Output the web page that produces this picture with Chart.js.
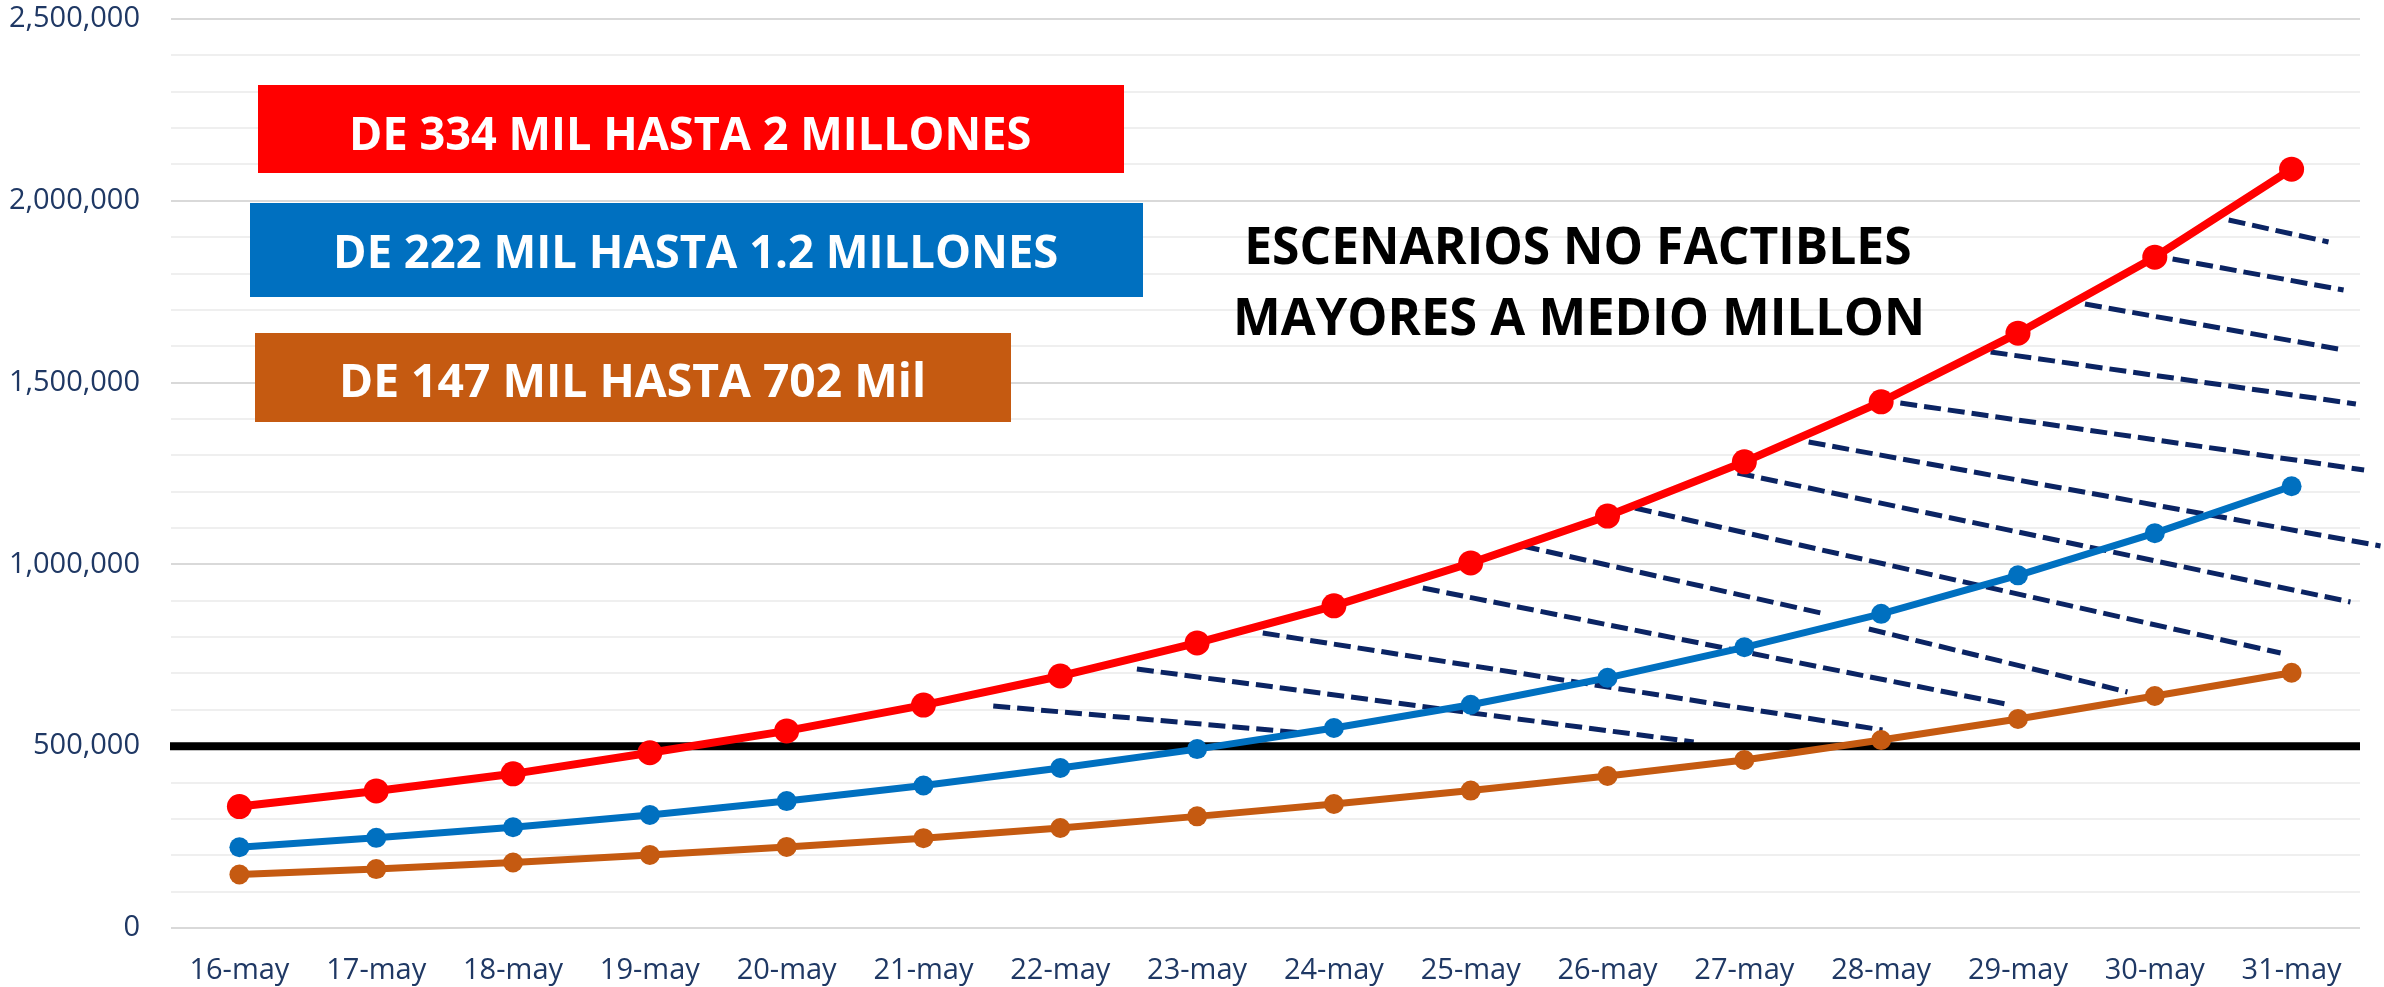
<!DOCTYPE html>
<html>
<head>
<meta charset="utf-8">
<script src="https://cdn.jsdelivr.net/npm/chart.js@4.4.0/dist/chart.umd.min.js"></script>
<style>
  html, body { margin: 0; padding: 0; background: #ffffff; }
  #wrap { width: 2384px; height: 987px; position: relative; }
</style>
</head>
<body>
<div id="wrap"><canvas id="c"></canvas></div>
<script>
// ---------- DATA ----------
const categories = ['16-may','17-may','18-may','19-may','20-may','21-may','22-may','23-may',
                    '24-may','25-may','26-may','27-may','28-may','29-may','30-may','31-may'];
const escenarioAlto  = [334000, 377000, 424000, 482000, 542000, 613000, 693000, 784000,
                        886000, 1004000, 1133000, 1282000, 1447000, 1636000, 1845000, 2087000];
const escenarioMedio = [222000, 248000, 277000, 311000, 349000, 392000, 440000, 492000,
                        550000, 614000, 688000, 772000, 864000, 970000, 1086000, 1215000];
const escenarioBajo  = [147000, 162000, 180000, 201000, 223000, 247000, 275000, 307000,
                        341000, 378000, 418000, 462000, 517000, 575000, 638000, 702000];
const umbral = 500000;
const yTickLabels = [0, 500000, 1000000, 1500000, 2000000, 2500000];
const boxLabels = ['DE 334 MIL HASTA 2 MILLONES', 'DE 222 MIL HASTA 1.2 MILLONES', 'DE 147 MIL HASTA 702 Mil'];
const noteLines = ['ESCENARIOS NO FACTIBLES', 'MAYORES A MEDIO MILLON'];
// hatch segments in data space: [category index from, value from, category index to, value to]
const hatchSegments = [
  [5.51, 610600, 7.78, 536300],
  [6.56, 712300, 10.63, 511600],
  [7.48, 811300, 12.01, 544600],
  [8.65, 935100, 12.95, 613300],
  [9.38, 1050600, 11.56, 866300],
  [10.20, 1155100, 14.92, 756300],
  [10.95, 1251400, 15.43, 896600],
  [11.47, 1336600, 15.65, 1050600],
  [12.14, 1443900, 15.53, 1259600],
  [11.91, 822300, 13.80, 649100],
  [14.54, 1947200, 15.27, 1886700],
  [14.13, 1839900, 15.38, 1754700],
  [13.49, 1716200, 15.38, 1589700],
  [12.80, 1584200, 15.47, 1441200]
];

// ---------- STYLE ----------
const FONT = "'Open Sans', sans-serif";
const NAVY = '#1F3864';
const boxStyles = [
  { fill: '#FF0000', x0: 258, x1: 1124, y0: 85,  y1: 173, tx0: 353, tx1: 1030, base: 150 },
  { fill: '#0070C0', x0: 250, x1: 1143, y0: 203, y1: 297, tx0: 337, tx1: 1057, base: 268 },
  { fill: '#C55A11', x0: 255, x1: 1011, y0: 333, y1: 422, tx0: 343, tx1: 923,  base: 397 }
];
const noteStyles = [
  { tx0: 1248, tx1: 1910, base: 264 },
  { tx0: 1237, tx1: 1921, base: 335 }
];

function fitText(ctx, text, x0, x1, baseline, size, color) {
  ctx.save();
  ctx.font = 'bold ' + size + 'px ' + FONT;
  ctx.textAlign = 'left';
  ctx.textBaseline = 'alphabetic';
  const m = ctx.measureText(text);
  const ink = m.actualBoundingBoxRight + m.actualBoundingBoxLeft;
  const sx = (x1 - x0) / ink;
  ctx.translate(x0 + m.actualBoundingBoxLeft * sx, baseline);
  ctx.scale(sx, 1);
  ctx.fillStyle = color;
  ctx.fillText(text, 0, 0);
  ctx.restore();
}

const overlay = {
  id: 'overlay',
  beforeDatasetsDraw(chart) {
    const { ctx, chartArea, scales: { x, y } } = chart;
    ctx.save();
    ctx.strokeStyle = '#0B2463';
    ctx.lineWidth = 5;
    ctx.setLineDash([17, 7]);
    ctx.lineCap = 'butt';
    hatchSegments.forEach(([i1, v1, i2, v2]) => {
      ctx.beginPath();
      ctx.moveTo(x.getPixelForValue(i1), y.getPixelForValue(v1));
      ctx.lineTo(x.getPixelForValue(i2), y.getPixelForValue(v2));
      ctx.stroke();
    });
    ctx.setLineDash([]);
    const yb = y.getPixelForValue(umbral);
    ctx.strokeStyle = '#000000';
    ctx.lineWidth = 8;
    ctx.beginPath();
    ctx.moveTo(chartArea.left - 1, yb);
    ctx.lineTo(chartArea.right, yb);
    ctx.stroke();
    ctx.restore();
  },
  afterDatasetsDraw(chart) {
    const { ctx } = chart;
    boxStyles.forEach((b, i) => {
      ctx.save();
      ctx.fillStyle = b.fill;
      ctx.fillRect(b.x0, b.y0, b.x1 - b.x0, b.y1 - b.y0);
      ctx.restore();
      fitText(ctx, boxLabels[i], b.tx0, b.tx1, b.base, 46, '#FFFFFF');
    });
    noteStyles.forEach((n, i) => fitText(ctx, noteLines[i], n.tx0, n.tx1, n.base, 52, '#000000'));
  }
};

const fmt = new Intl.NumberFormat('en-US');

new Chart(document.getElementById('c'), {
  type: 'line',
  data: {
    labels: categories,
    datasets: [
      { label: 'Alto', data: escenarioAlto, borderColor: '#FF0000', backgroundColor: '#FF0000',
        borderWidth: 8, pointRadius: 12.5, pointHoverRadius: 12.5, pointBorderWidth: 0, tension: 0 },
      { label: 'Medio', data: escenarioMedio, borderColor: '#0070C0', backgroundColor: '#0070C0',
        borderWidth: 7, pointRadius: 10, pointHoverRadius: 10, pointBorderWidth: 0, tension: 0 },
      { label: 'Bajo', data: escenarioBajo, borderColor: '#C55A11', backgroundColor: '#C55A11',
        borderWidth: 7, pointRadius: 10, pointHoverRadius: 10, pointBorderWidth: 0, tension: 0 }
    ]
  },
  options: {
    responsive: true,
    maintainAspectRatio: false,
    animation: false,
    layout: { padding: { left: 0, right: 24, top: 19, bottom: 0 } },
    plugins: { legend: { display: false }, tooltip: { enabled: false } },
    scales: {
      x: {
        offset: true,
        afterFit(scale) { scale.height = 59; scale.paddingLeft = 0; scale.paddingRight = 0; },
        grid: { display: false, drawTicks: false },
        border: { display: false },
        ticks: { color: NAVY, font: { family: FONT, size: 29 }, padding: 25, maxRotation: 0, autoSkip: false }
      },
      y: {
        min: 0, max: 2500000,
        afterFit(scale) { scale.width = 171; scale.paddingTop = 0; scale.paddingBottom = 0; },
        border: { display: false },
        grid: {
          drawTicks: false,
          color: (c) => (c.tick && yTickLabels.includes(c.tick.value)) ? '#D9D9D9' : '#EFEFEF',
          lineWidth: 2
        },
        ticks: {
          stepSize: 100000,
          autoSkip: false,
          padding: 31,
          color: NAVY,
          font: { family: FONT, size: 29 },
          callback: (v) => yTickLabels.includes(v) ? fmt.format(v) : ''
        }
      }
    }
  },
  plugins: [overlay]
});
</script>
</body>
</html>
